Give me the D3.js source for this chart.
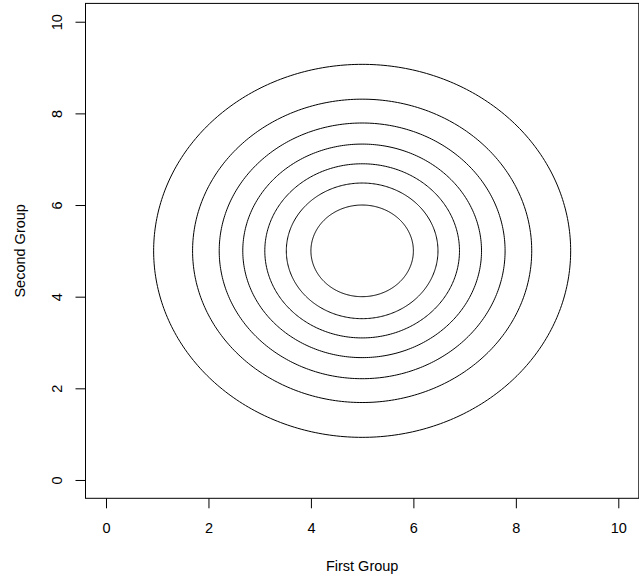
<!DOCTYPE html>
<html>
<head>
<meta charset="utf-8">
<script src="https://cdn.jsdelivr.net/npm/d3@7"></script>
<style>
  html, body { margin: 0; padding: 0; background: #fff; }
  svg { display: block; }
  text { font-family: "Liberation Sans", Arial, sans-serif; fill: #000; }
</style>
</head>
<body>
<svg id="chart" width="639" height="583"></svg>
<script>
// Axis ticks
const xTicks = [0, 2, 4, 6, 8, 10];
const yTicks = [0, 2, 4, 6, 8, 10];
// Contour rings: common centre and radius of each level line
const center = { x: 5, y: 5 };
const ringRadii = [1.0, 1.48, 1.9, 2.33, 2.79, 3.31, 4.07];
const xTitle = "First Group";
const yTitle = "Second Group";

const W = 639, H = 583;
const plot = { left: 85.5, right: 638.8, top: 3.4, bottom: 498.3 };

const svg = d3.select("#chart");

// Data ranges padded by 4% on each side
const x = d3.scaleLinear().domain([-0.4, 10.4]).range([plot.left, plot.right]);
const y = d3.scaleLinear().domain([-0.4, 10.4]).range([plot.bottom, plot.top]);

// Contour lines
const angles = d3.range(0, 361, 1).map(d => d * Math.PI / 180);
const line = d3.line().x(d => x(d[0])).y(d => y(d[1]));
svg.append("g")
  .selectAll("path")
  .data(ringRadii)
  .join("path")
  .attr("d", r => line(angles.map(a => [center.x + r * Math.cos(a), center.y + r * Math.sin(a)])))
  .attr("fill", "none")
  .attr("stroke", "#000")
  .attr("stroke-width", 1);

// Frame
svg.append("rect")
  .attr("x", plot.left).attr("y", plot.top)
  .attr("width", plot.right - plot.left).attr("height", plot.bottom - plot.top)
  .attr("fill", "none").attr("stroke", "#000").attr("stroke-width", 1);

const fontSize = 14.5;

// Bottom axis
const xAxis = svg.append("g")
  .attr("transform", `translate(0,${plot.bottom})`)
  .call(d3.axisBottom(x).tickValues(xTicks).tickSize(10).tickPadding(14).tickFormat(d3.format("d")));
xAxis.select(".domain").remove();
xAxis.selectAll(".tick line").attr("stroke", "#000");
xAxis.selectAll(".tick text")
  .attr("font-size", fontSize)
  .attr("font-family", "Liberation Sans, Arial, sans-serif")
  .attr("fill", "#000");

// Left axis
const yAxis = svg.append("g")
  .attr("transform", `translate(${plot.left},0)`)
  .call(d3.axisLeft(y).tickValues(yTicks).tickSize(10).tickFormat(d3.format("d")));
yAxis.select(".domain").remove();
yAxis.selectAll(".tick line").attr("stroke", "#000");
yAxis.selectAll(".tick text")
  .attr("x", null).attr("dy", null)
  .attr("text-anchor", "middle")
  .attr("font-size", fontSize)
  .attr("font-family", "Liberation Sans, Arial, sans-serif")
  .attr("fill", "#000")
  .attr("transform", "translate(-23.5,0) rotate(-90)");

// Axis titles
svg.append("text")
  .attr("x", (plot.left + plot.right) / 2)
  .attr("y", 571)
  .attr("text-anchor", "middle")
  .attr("font-size", fontSize)
  .text(xTitle);

svg.append("text")
  .attr("transform", `translate(25,${(plot.top + plot.bottom) / 2}) rotate(-90)`)
  .attr("text-anchor", "middle")
  .attr("font-size", fontSize)
  .text(yTitle);
</script>
</body>
</html>
